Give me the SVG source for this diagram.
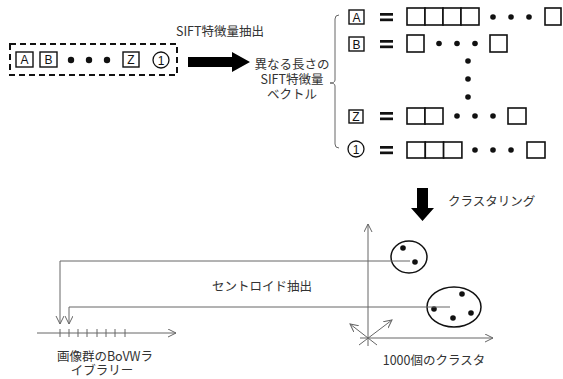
<svg xmlns="http://www.w3.org/2000/svg" width="563" height="379" viewBox="0 0 563 379">
<defs>
<style>
.t{font-family:"Noto Sans CJK JP","Noto Sans",sans-serif;font-size:12.5px;fill:#333}
.lt{font-family:"Liberation Sans",Arial,sans-serif;font-size:12px;fill:#111}
.bx{fill:#fff;stroke:#111;stroke-width:1.4}
.cell{fill:#fff;stroke:#111;stroke-width:1.6}
.dot{fill:#111}
.ln{fill:none;stroke:#666;stroke-width:1}
</style>
<marker id="oa" markerWidth="10" markerHeight="10" refX="8" refY="4" orient="auto" markerUnits="userSpaceOnUse">
<path d="M0,0 L8,4 L0,8" fill="none" stroke="#666" stroke-width="1"/>
</marker>
<g id="eq"><rect x="0" y="-4" width="13" height="2.7" fill="#111"/><rect x="0" y="1.5" width="13" height="2.7" fill="#111"/></g>
</defs>
<rect width="563" height="379" fill="#fff"/>

<g id="input">
<rect x="10" y="44" width="167" height="31" fill="none" stroke="#111" stroke-width="2" stroke-dasharray="6,4"/>
<rect class="bx" x="16" y="52" width="17" height="15"/><text class="lt" x="24.5" y="64" text-anchor="middle">A</text>
<rect class="bx" x="40" y="52" width="17" height="15"/><text class="lt" x="48.5" y="64" text-anchor="middle">B</text>
<circle class="dot" cx="71" cy="60" r="3.2"/><circle class="dot" cx="89" cy="60" r="3.2"/><circle class="dot" cx="107" cy="60" r="3.2"/>
<rect class="bx" x="123" y="52" width="16" height="15"/><text class="lt" x="131" y="64" text-anchor="middle">Z</text>
<circle cx="161" cy="60" r="8" fill="#fff" stroke="#111" stroke-width="1.3"/><text class="lt" x="161" y="64.5" text-anchor="middle">1</text>
</g>

<g id="extract-arrow">
<path d="M188,57 H232 V52 L250,62 L232,72 V67 H188 Z" fill="#000"/>
<text class="t" x="220" y="36" text-anchor="middle">SIFT特徴量抽出</text>
</g>

<g id="vec-label">
<text class="t" text-anchor="middle"><tspan x="292" y="69">異なる長さの</tspan><tspan x="292" y="84">SIFT特徴量</tspan><tspan x="292" y="99">ベクトル</tspan></text>
</g>

<g id="bracket">
<path class="ln" d="M339,15 Q335,15 335,19 L335,80 Q335,83 330,83 Q335,83 335,86 L335,144 Q335,148 339,148" stroke="#888"/>
</g>

<g id="rowA">
<rect class="bx" x="349" y="10" width="15" height="14"/><text class="lt" x="356.5" y="21.5" text-anchor="middle">A</text>
<use href="#eq" x="380" y="17"/>
<rect class="cell" x="407" y="8" width="18" height="17"/><rect class="cell" x="425" y="8" width="18" height="17"/><rect class="cell" x="443" y="8" width="18" height="17"/><rect class="cell" x="461" y="8" width="18" height="17"/>
<circle class="dot" cx="493" cy="17" r="2.8"/><circle class="dot" cx="511" cy="17" r="2.8"/><circle class="dot" cx="529" cy="17" r="2.8"/>
<rect class="cell" x="545" y="8" width="16" height="17"/>
</g>

<g id="rowB">
<rect class="bx" x="349" y="37" width="15" height="14"/><text class="lt" x="356.5" y="48.5" text-anchor="middle">B</text>
<use href="#eq" x="380" y="44"/>
<rect class="cell" x="407" y="35" width="17" height="17"/>
<circle class="dot" cx="439" cy="43.5" r="2.8"/><circle class="dot" cx="457" cy="43.5" r="2.8"/><circle class="dot" cx="475" cy="43.5" r="2.8"/>
<rect class="cell" x="490" y="35" width="17" height="17"/>
</g>

<g id="vdots">
<circle class="dot" cx="468" cy="61" r="2.8"/><circle class="dot" cx="468" cy="79" r="2.8"/><circle class="dot" cx="468" cy="97" r="2.8"/>
</g>

<g id="rowZ">
<rect class="bx" x="349" y="110" width="14" height="13"/><text class="lt" x="356" y="121" text-anchor="middle" font-size="11">Z</text>
<use href="#eq" x="380" y="116"/>
<rect class="cell" x="407" y="108" width="18" height="16"/><rect class="cell" x="425" y="108" width="18" height="16"/>
<circle class="dot" cx="457" cy="116" r="2.8"/><circle class="dot" cx="475" cy="116" r="2.8"/><circle class="dot" cx="493" cy="116" r="2.8"/>
<rect class="cell" x="508" y="108" width="18" height="16"/>
</g>

<g id="row1">
<circle cx="356" cy="149" r="8" fill="#fff" stroke="#111" stroke-width="1.3"/><text class="lt" x="356" y="153.5" text-anchor="middle">1</text>
<use href="#eq" x="380" y="150"/>
<rect class="cell" x="407" y="142" width="18.3" height="16"/><rect class="cell" x="425.3" y="142" width="18.3" height="16"/><rect class="cell" x="443.6" y="142" width="18.3" height="16"/>
<circle class="dot" cx="475" cy="150" r="2.8"/><circle class="dot" cx="493" cy="150" r="2.8"/><circle class="dot" cx="511" cy="150" r="2.8"/>
<rect class="cell" x="527" y="142" width="18" height="16"/>
</g>

<g id="cluster-arrow">
<path d="M417,188 H428 V208 H434 L422.5,221 L411,208 H417 Z" fill="#000"/>
<text class="t" x="448" y="206">クラスタリング</text>
</g>

<g id="axes">
<line class="ln" x1="368" y1="346" x2="368" y2="224" marker-end="url(#oa)"/>
<line class="ln" x1="360" y1="338" x2="493" y2="338" marker-end="url(#oa)"/>
<line class="ln" x1="377" y1="345" x2="350" y2="324" marker-end="url(#oa)"/>
<line class="ln" x1="359" y1="345" x2="392" y2="320" marker-end="url(#oa)"/>
<text class="t" x="434" y="365" text-anchor="middle">1000個のクラスタ</text>
</g>

<g id="cluster1">
<ellipse cx="409" cy="257" rx="18" ry="16" fill="none" stroke="#111" stroke-width="1.5"/>
<circle class="dot" cx="403" cy="248" r="2.8"/><circle class="dot" cx="415" cy="262" r="2.8"/>
</g>
<g id="cluster2">
<ellipse cx="454" cy="307" rx="27" ry="20" fill="none" stroke="#111" stroke-width="1.5"/>
<circle class="dot" cx="462" cy="294" r="2.8"/><circle class="dot" cx="434" cy="309" r="2.8"/><circle class="dot" cx="453" cy="318" r="2.8"/><circle class="dot" cx="471" cy="313" r="2.8"/>
</g>

<g id="connectors">
<path class="ln" d="M410,261 H60 V324" marker-end="url(#oa)"/>
<path class="ln" d="M450,307 H69 V324" marker-end="url(#oa)"/>
<text class="t" x="262" y="291" text-anchor="middle">セントロイド抽出</text>
</g>

<g id="library">
<line class="ln" x1="37" y1="333" x2="176" y2="333" marker-end="url(#oa)"/>
<path class="ln" d="M60,329V337M69,329V337M78,329V337M87,329V337M97,329V337M106,329V337M115,329V337M125,329V337"/>
<text class="t" text-anchor="middle"><tspan x="105" y="361">画像群のBoVWラ</tspan><tspan x="102" y="375">イブラリー</tspan></text>
</g>
</svg>
